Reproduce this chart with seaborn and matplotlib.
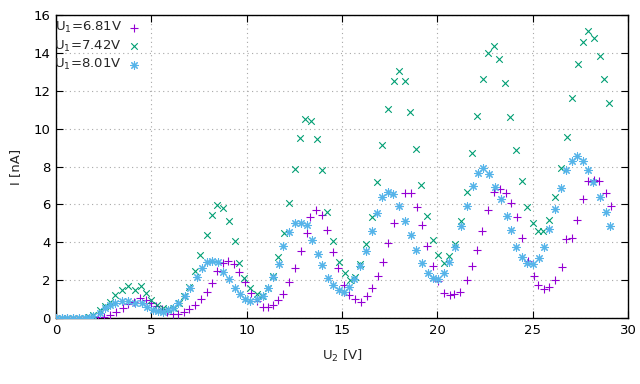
import numpy as np
import pandas as pd
import matplotlib
matplotlib.use("Agg")
import matplotlib.pyplot as plt
import seaborn as sns

# U1 = 6.81 V
u2_a = [0.0, 0.3, 0.6, 0.9, 1.2, 1.5, 1.75, 2.2, 2.5, 2.83,
        3.15, 3.5, 3.8, 4.1, 4.4, 4.7, 5.0, 5.25, 5.55, 5.8,
        6.15, 6.41, 6.71, 7.0, 7.3, 7.59, 7.9, 8.2, 8.43, 8.74,
        9.04, 9.33, 9.6, 9.91, 10.23, 10.52, 10.84, 11.13, 11.4, 11.66,
        11.92, 12.23, 12.53, 12.85, 13.15, 13.34, 13.63, 13.93, 14.23, 14.54,
        14.8, 15.12, 15.38, 15.68, 15.98, 16.29, 16.55, 16.87, 17.16, 17.43,
        17.74, 18.0, 18.3, 18.62, 18.91, 19.18, 19.47, 19.75, 20.05, 20.35,
        20.66, 20.87, 21.18, 21.57, 21.83, 22.06, 22.36, 22.67, 22.98, 23.28,
        23.58, 23.86, 24.16, 24.45, 24.73, 25.05, 25.29, 25.59, 25.87, 26.19,
        26.52, 26.74, 27.04, 27.34, 27.65, 27.91, 28.21, 28.49, 28.82, 29.09]
i_a = [0, 0, 0, 0, 0, 0, 0.0, 0.05, 0.07, 0.15,
       0.32, 0.51, 0.74, 0.85, 1.04, 0.95, 0.78, 0.62, 0.45, 0.34,
       0.21, 0.21, 0.3, 0.46, 0.67, 1.0, 1.36, 1.83, 2.5, 2.89,
       3.0, 2.83, 2.45, 1.92, 1.34, 0.9, 0.6, 0.6, 0.69, 0.95,
       1.27, 1.88, 2.62, 3.55, 4.47, 5.35, 5.7, 5.44, 4.65, 3.5,
       2.62, 1.74, 1.24, 1.0, 0.86, 1.16, 1.57, 2.22, 2.97, 3.98,
       5.03, 5.91, 6.58, 6.58, 5.84, 4.89, 3.8, 2.75, 1.97, 1.34,
       1.21, 1.27, 1.39, 2.0, 2.76, 3.59, 4.61, 5.7, 6.64, 6.79,
       6.58, 6.09, 5.32, 4.21, 3.03, 2.22, 1.74, 1.51, 1.62, 2.0,
       2.67, 4.15, 4.21, 5.17, 6.27, 7.23, 7.29, 7.23, 6.62, 5.91]

# U1 = 7.42 V
u2_b = [0.0, 0.3, 0.6, 0.9, 1.2, 1.5, 1.75, 1.96, 2.3, 2.57,
        2.83, 3.1, 3.44, 3.8, 4.14, 4.45, 4.72, 5.0, 5.28, 5.63,
        5.9, 6.2, 6.45, 6.7, 7.0, 7.29, 7.55, 7.9, 8.16, 8.46,
        8.77, 9.05, 9.37, 9.61, 9.88, 10.17, 10.52, 10.79, 11.13, 11.4,
        11.66, 11.96, 12.23, 12.53, 12.8, 13.06, 13.4, 13.7, 13.96, 14.23,
        14.54, 14.86, 15.17, 15.42, 15.68, 15.94, 16.26, 16.55, 16.82, 17.11,
        17.39, 17.74, 18.0, 18.3, 18.58, 18.9, 19.14, 19.47, 19.79, 20.05,
        20.35, 20.62, 20.92, 21.23, 21.54, 21.8, 22.09, 22.41, 22.67, 22.97,
        23.25, 23.56, 23.82, 24.14, 24.45, 24.71, 25.0, 25.29, 25.55, 25.87,
        26.17, 26.46, 26.78, 27.07, 27.36, 27.62, 27.91, 28.23, 28.51, 28.75,
        29.01]
i_b = [0, 0, 0, 0, 0, 0, 0.05, 0.16, 0.4, 0.62,
       0.86, 1.2, 1.48, 1.69, 1.5, 1.69, 1.3, 0.95, 0.69, 0.55,
       0.5, 0.55, 0.8, 1.16, 1.65, 2.5, 3.33, 4.38, 5.44, 5.97,
       5.79, 5.12, 4.07, 2.89, 2.1, 1.57, 1.25, 1.16, 1.57, 2.2,
       3.24, 4.47, 6.05, 7.85, 9.49, 10.49, 10.42, 9.43, 7.81, 5.58,
       4.05, 2.94, 2.36, 2.0, 2.19, 2.84, 3.9, 5.31, 7.16, 9.16,
       11.05, 12.53, 13.06, 12.53, 10.86, 8.92, 7.02, 5.39, 4.12, 3.33,
       2.89, 3.25, 3.9, 5.12, 6.67, 8.73, 10.68, 12.6, 13.97, 14.36,
       13.66, 12.39, 10.63, 8.87, 7.25, 5.84, 5.0, 4.57, 4.59, 5.17,
       6.37, 7.9, 9.57, 11.6, 13.39, 14.59, 15.15, 14.77, 13.85, 12.6,
       11.34]

# U1 = 8.01 V
u2_c = [0.0, 0.3, 0.6, 0.9, 1.2, 1.5, 1.75, 1.96, 2.3, 2.57,
        2.83, 3.1, 3.44, 3.8, 4.14, 4.49, 4.76, 5.1, 5.37, 5.63,
        5.89, 6.15, 6.41, 6.76, 7.03, 7.38, 7.64, 7.9, 8.2, 8.48,
        8.74, 9.05, 9.4, 9.65, 9.93, 10.2, 10.52, 10.84, 11.13, 11.4,
        11.71, 11.92, 12.22, 12.53, 12.83, 13.15, 13.44, 13.76, 13.96, 14.28,
        14.54, 14.84, 15.12, 15.38, 15.63, 15.94, 16.26, 16.57, 16.82, 17.11,
        17.43, 17.69, 18.0, 18.32, 18.62, 18.9, 19.21, 19.51, 19.75, 20.05,
        20.36, 20.62, 20.92, 21.22, 21.54, 21.88, 22.11, 22.41, 22.72, 23.04,
        23.32, 23.63, 23.84, 24.12, 24.44, 24.71, 25.03, 25.34, 25.59, 25.87,
        26.17, 26.48, 26.74, 27.04, 27.34, 27.65, 27.91, 28.18, 28.53, 28.82,
        29.05]
i_c = [0.02, 0.02, 0.02, 0.02, 0.02, 0.02, 0.02, 0.1, 0.28, 0.51,
       0.69, 0.81, 0.92, 0.9, 0.81, 0.81, 0.6, 0.42, 0.39, 0.3,
       0.42, 0.53, 0.79, 1.14, 1.6, 2.16, 2.62, 2.98, 3.03, 2.97,
       2.45, 2.04, 1.57, 1.25, 1.0, 0.9, 0.99, 1.16, 1.57, 2.18,
       2.85, 3.8, 4.52, 5.03, 5.03, 4.91, 4.12, 3.36, 2.8, 2.1,
       1.74, 1.48, 1.36, 1.62, 2.04, 2.75, 3.52, 4.59, 5.53, 6.41,
       6.64, 6.55, 5.91, 5.12, 4.38, 3.59, 2.92, 2.36, 2.1, 2.04,
       2.37, 2.95, 3.76, 4.86, 5.91, 6.97, 7.64, 7.9, 7.6, 6.93,
       6.27, 5.39, 4.65, 3.76, 3.2, 2.89, 2.83, 3.15, 3.73, 4.7,
       5.74, 6.85, 7.81, 8.31, 8.55, 8.31, 7.81, 7.2, 6.4, 5.58,
       4.87]

labels = ["U$_1$=6.81V", "U$_1$=7.42V", "U$_1$=8.01V"]
colors = ["#9400d3", "#009e73", "#56b4e9"]
markers = ["+", "x", (8, 2, 0)]
sizes = [30, 22, 30]

sns.set_theme(style="ticks")
plt.rcParams["font.family"] = ["DejaVu Sans"]

fig = plt.figure(figsize=(6.4, 3.84), dpi=100)
ax = fig.add_axes([56 / 640, 1 - 318 / 384, 572 / 640, 303 / 384])

series = [(u2_a, i_a), (u2_b, i_b), (u2_c, i_c)]
for (xs, ys), lab, col, mk, sz in zip(series, labels, colors, markers, sizes):
    df = pd.DataFrame({"U2": xs, "I": ys})
    sns.scatterplot(data=df, x="U2", y="I", ax=ax, color=col, marker=mk,
                    s=sz, linewidth=0.8, label=lab, zorder=3)

ax.set_xlim(0, 30)
ax.set_ylim(0, 16)
ax.set_xticks(np.arange(0, 31, 5))
ax.set_yticks(np.arange(0, 17, 2))
ax.grid(True, linestyle=(0, (1, 3)), color="#a8a8a8", linewidth=0.8)
ax.set_axisbelow(True)
ax.tick_params(direction="in", length=5, width=0.8, top=True, right=True,
               labelsize=9.5, colors="black", pad=4)
for sp in ax.spines.values():
    sp.set_color("black")
    sp.set_linewidth(1.0)

ax.set_xlabel("U$_2$ [V]", fontsize=9.5, labelpad=8)
ax.set_ylabel("I [nA]", fontsize=9.5, labelpad=8)

ax.legend(loc="upper left", bbox_to_anchor=(-0.012, 1.0), markerfirst=False,
          frameon=False, fontsize=9.5, handletextpad=0.4, labelspacing=0.25,
          borderaxespad=0.1, handlelength=1.0, borderpad=0.3)

fig.savefig("out.png", dpi=100)
